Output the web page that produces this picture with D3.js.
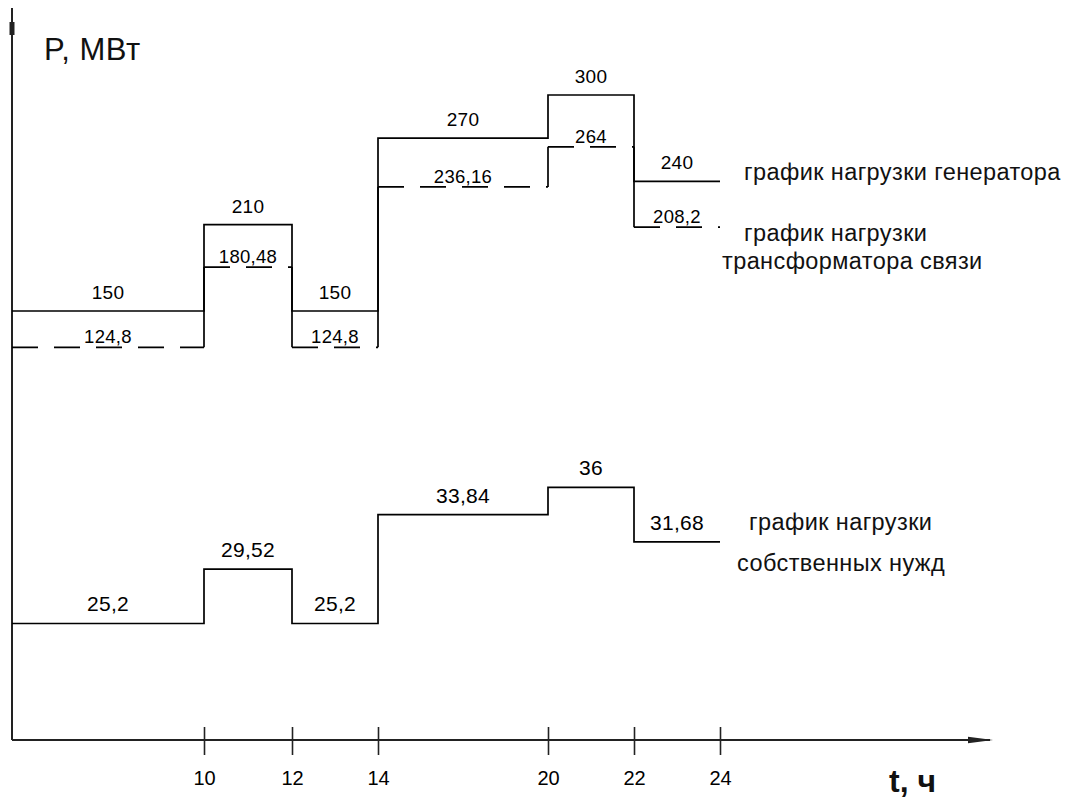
<!DOCTYPE html>
<html><head><meta charset="utf-8">
<script src="https://cdn.jsdelivr.net/npm/d3@7"></script>
<style>
html,body{margin:0;padding:0;background:#fff;}
svg{display:block;font-family:"Liberation Sans",Arial,sans-serif;}
</style></head><body>
<svg id="chart" width="1083" height="800"></svg>
<script>
// ---- data ----
const hourBreaks = [0, 10, 12, 14, 20, 22, 24];
const tickHours = [10, 12, 14, 20, 22, 24];
const generatorLoad = [150, 210, 150, 270, 300, 240];
const transformerLoad = [124.8, 180.48, 124.8, 236.16, 264, 208.2];
const auxiliaryLoad = [25.2, 29.52, 25.2, 33.84, 36, 31.68];
const legendGenerator = ["график нагрузки генератора"];
const legendTransformer = ["график нагрузки", "трансформатора связи"];
const legendAuxiliary = ["график нагрузки", "собственных нужд"];
const yAxisTitle = "P, МВт";
const xAxisTitle = "t, ч";

// ---- layout ----
const svg = d3.select("#chart");
const ink = "#000", axisInk = "#222";
const axisLeft = 12, axisBottomY = 740;
// schematic (non-uniform) time axis, as in the reference
const x = d3.scaleLinear().domain(hourBreaks).range([12, 204, 292, 378, 548, 634, 720]);
const yUpper = d3.scaleLinear().domain([100, 300]).range([383, 95]);
const yLower = d3.scaleLinear().domain([20, 40]).range([689, 437]);
const fmt = v => String(v).replace(".", ",");

function stepPoints(values) {
  const pts = values.map((v, i) => [hourBreaks[i], v]);
  pts.push([hourBreaks[values.length], values[values.length - 1]]);
  return pts;
}
function segs(values) {
  return values.map((v, i) => ({v, h0: hourBreaks[i], h1: hourBreaks[i + 1], i}));
}

// ---- axes ----
svg.append("line").attr("x1", axisLeft).attr("x2", axisLeft)
  .attr("y1", 8).attr("y2", axisBottomY)
  .attr("stroke", axisInk).attr("stroke-width", 2);
svg.append("line").attr("x1", axisLeft).attr("x2", axisLeft)
  .attr("y1", 22).attr("y2", 35)
  .attr("stroke", axisInk).attr("stroke-width", 5);
svg.append("line").attr("x1", axisLeft).attr("x2", 990)
  .attr("y1", axisBottomY).attr("y2", axisBottomY)
  .attr("stroke", axisInk).attr("stroke-width", 2);
svg.append("path")
  .attr("d", "M968,736.8 L993,740 L968,743.2 Z")
  .attr("fill", axisInk);

const xAxis = d3.axisBottom(x).tickValues(tickHours).tickSize(15).tickSizeOuter(0).tickFormat(d => d);
const gx = svg.append("g").attr("transform", `translate(0,${axisBottomY})`).call(xAxis);
gx.select(".domain").remove();
gx.selectAll(".tick line").attr("y1", -13).attr("y2", 15).attr("stroke", axisInk).attr("stroke-width", 1.6);
gx.selectAll(".tick text").attr("y", 45).attr("dy", 0)
  .attr("font-size", 20).attr("fill", ink)
  .attr("font-family", '"Liberation Sans",Arial,sans-serif');

svg.append("text").attr("x", 44).attr("y", 60)
  .attr("font-size", 31).attr("fill", "#111").attr("letter-spacing", 0.5).text(yAxisTitle);
svg.append("text").attr("x", 889).attr("y", 792)
  .attr("font-size", 32).attr("font-weight", "bold").attr("fill", "#111").text(xAxisTitle);

// ---- generator (solid step) ----
const lineUpper = d3.line().x(d => x(d[0])).y(d => yUpper(d[1])).curve(d3.curveStepAfter);
const lineLower = d3.line().x(d => x(d[0])).y(d => yLower(d[1])).curve(d3.curveStepAfter);

svg.append("path").attr("d", lineUpper(stepPoints(generatorLoad)))
  .attr("fill", "none").attr("stroke", ink).attr("stroke-width", 1.7);

// ---- transformer (dashed horizontals, solid risers) ----
const gT = svg.append("g");
gT.selectAll("line.h").data(segs(transformerLoad)).join("line").attr("class", "h")
  .attr("x1", d => x(d.h0)).attr("x2", d => x(d.h1))
  .attr("y1", d => yUpper(d.v)).attr("y2", d => yUpper(d.v))
  .attr("stroke", ink).attr("stroke-width", 1.7).attr("stroke-dasharray", "26,16");
gT.selectAll("line.v").data(transformerLoad.slice(1).map((v, i) => ({v, prev: transformerLoad[i], h: hourBreaks[i + 1]})))
  .join("line").attr("class", "v")
  .attr("x1", d => x(d.h)).attr("x2", d => x(d.h))
  .attr("y1", d => yUpper(d.prev)).attr("y2", d => yUpper(d.v))
  .attr("stroke", ink).attr("stroke-width", 1.7);

// ---- auxiliary (solid step) ----
svg.append("path").attr("d", lineLower(stepPoints(auxiliaryLoad)))
  .attr("fill", "none").attr("stroke", ink).attr("stroke-width", 1.7);

// ---- value labels ----
function labels(values, yScale, off, size) {
  svg.append("g").selectAll("text").data(segs(values)).join("text")
    .attr("x", d => (x(d.h0) + x(d.h1)) / 2)
    .attr("y", d => yScale(d.v) - off)
    .attr("text-anchor", "middle")
    .attr("font-size", size).attr("fill", ink).attr("letter-spacing", 0.3)
    .text(d => fmt(d.v));
}
labels(generatorLoad, yUpper, 12, 19);
labels(transformerLoad, yUpper, 4, 18.5);
labels(auxiliaryLoad, yLower, 12, 21);

// ---- legends ----
const last = a => a[a.length - 1];
function legend(lines, x0s, y0, dy) {
  svg.append("g").selectAll("text").data(lines).join("text")
    .attr("x", (d, i) => x(24) + x0s[i])
    .attr("y", (d, i) => y0 + i * dy)
    .attr("font-size", 23.5).attr("fill", "#111").attr("letter-spacing", 0.4)
    .text(d => d);
}
legend(legendGenerator, [24], yUpper(last(generatorLoad)) - 1, 0);
legend(legendTransformer, [24, 2], yUpper(last(transformerLoad)) + 14, 28);
legend(legendAuxiliary, [29, 17], yLower(last(auxiliaryLoad)) - 12, 41);
</script>
</body></html>
